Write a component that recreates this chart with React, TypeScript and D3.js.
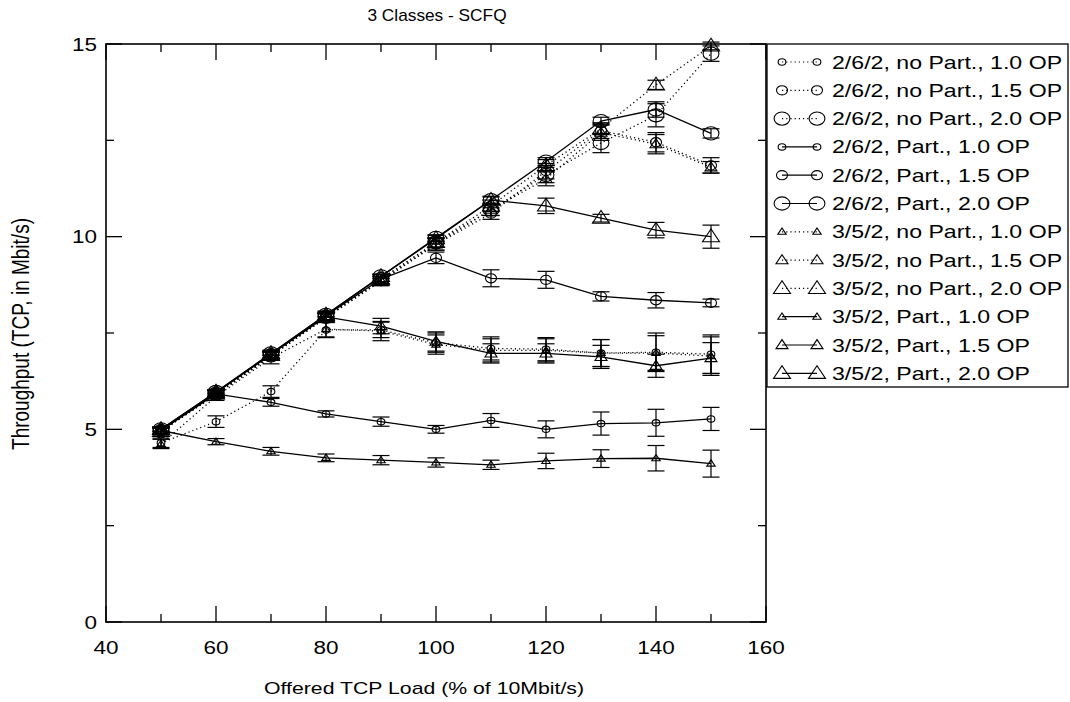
import React from "react";
import * as d3 from "d3";

const TITLE = "3 Classes - SCFQ";
const X_LABEL = "Offered TCP Load (% of 10Mbit/s)";
const Y_LABEL = "Throughput (TCP, in Mbit/s)";

const LOAD = [50, 60, 70, 80, 90, 100, 110, 120, 130, 140, 150];
const X_TICKS = [40, 60, 80, 100, 120, 140, 160];
const X_MINOR = [50, 70, 90, 110, 130, 150];
const Y_TICKS = [0, 5, 10, 15];
const Y_MINOR = [2.5, 7.5, 12.5];

const LEGEND_LABELS = [
  "2/6/2, no Part., 1.0 OP",
  "2/6/2, no Part., 1.5 OP",
  "2/6/2, no Part., 2.0 OP",
  "2/6/2, Part., 1.0 OP",
  "2/6/2, Part., 1.5 OP",
  "2/6/2, Part., 2.0 OP",
  "3/5/2, no Part., 1.0 OP",
  "3/5/2, no Part., 1.5 OP",
  "3/5/2, no Part., 2.0 OP",
  "3/5/2, Part., 1.0 OP",
  "3/5/2, Part., 1.5 OP",
  "3/5/2, Part., 2.0 OP",
];

// values
const c10NoPart = [4.65, 5.2, 5.98, 7.58, 7.58, 7.25, 7.1, 7.08, 6.98, 7.0, 6.95];
const c15NoPart = [4.95, 5.9, 6.9, 7.9, 8.85, 9.8, 10.6, 11.7, 12.75, 12.45, 11.85];
const c20NoPart = [4.95, 5.92, 6.92, 7.92, 8.9, 9.85, 10.7, 11.6, 12.43, 13.15, 14.75];
const c10Part = [4.97, 5.92, 5.7, 5.4, 5.2, 5.0, 5.23, 5.0, 5.15, 5.17, 5.27];
const c15Part = [4.98, 5.95, 6.95, 7.95, 8.9, 9.45, 8.92, 8.88, 8.45, 8.35, 8.28];
const c20Part = [5.0, 5.97, 6.97, 7.97, 8.97, 9.97, 10.95, 11.95, 13.0, 13.3, 12.68];
const t10NoPart = [4.62, 5.85, 6.85, 7.6, 7.55, 7.2, 7.05, 7.05, 6.98, 6.98, 6.9];
const t15NoPart = [4.95, 5.9, 6.9, 7.9, 8.85, 9.8, 10.7, 11.5, 12.7, 12.4, 11.8];
const t20NoPart = [4.95, 5.92, 6.92, 7.92, 8.9, 9.85, 10.8, 11.85, 12.8, 13.94, 14.95];
const t10Part = [4.97, 4.68, 4.43, 4.26, 4.2, 4.14, 4.08, 4.18, 4.24, 4.25, 4.11];
const t15Part = [4.98, 5.95, 6.95, 7.92, 7.68, 7.28, 6.97, 6.97, 6.88, 6.65, 6.85];
const t20Part = [5.0, 5.97, 6.97, 7.97, 8.97, 9.95, 10.95, 10.8, 10.48, 10.17, 10.0];

// error half-widths
const c10NoPartErr = [0.12, 0.15, 0.15, 0.2, 0.2, 0.25, 0.3, 0.3, 0.35, 0.5, 0.5];
const c15NoPartErr = [0.08, 0.1, 0.1, 0.1, 0.12, 0.15, 0.15, 0.2, 0.2, 0.25, 0.2];
const c20NoPartErr = [0.08, 0.1, 0.1, 0.1, 0.12, 0.12, 0.15, 0.2, 0.25, 0.3, 0.2];
const c10PartErr = [0.08, 0.08, 0.1, 0.08, 0.12, 0.1, 0.18, 0.22, 0.3, 0.35, 0.3];
const c15PartErr = [0.08, 0.08, 0.1, 0.1, 0.12, 0.15, 0.22, 0.22, 0.12, 0.2, 0.1];
const c20PartErr = [0.05, 0.05, 0.05, 0.05, 0.05, 0.08, 0.08, 0.1, 0.1, 0.2, 0.12];
const t10NoPartErr = [0.12, 0.1, 0.15, 0.2, 0.25, 0.25, 0.3, 0.3, 0.35, 0.45, 0.5];
const t15NoPartErr = [0.08, 0.1, 0.1, 0.1, 0.12, 0.15, 0.15, 0.18, 0.2, 0.25, 0.15];
const t20NoPartErr = [0.08, 0.1, 0.1, 0.1, 0.12, 0.12, 0.15, 0.15, 0.15, 0.12, 0.1];
const t10PartErr = [0.1, 0.08, 0.1, 0.1, 0.12, 0.12, 0.12, 0.2, 0.23, 0.33, 0.35];
const t15PartErr = [0.08, 0.08, 0.1, 0.15, 0.2, 0.25, 0.25, 0.25, 0.3, 0.3, 0.4];
const t20PartErr = [0.05, 0.05, 0.05, 0.05, 0.05, 0.08, 0.1, 0.2, 0.1, 0.2, 0.3];

type Series = { label: string; values: number[]; err: number[]; shape: "circle" | "triangle"; size: number; dotted: boolean };

const SERIES: Series[] = [
  { label: LEGEND_LABELS[0], values: c10NoPart, err: c10NoPartErr, shape: "circle", size: 0, dotted: true },
  { label: LEGEND_LABELS[1], values: c15NoPart, err: c15NoPartErr, shape: "circle", size: 1, dotted: true },
  { label: LEGEND_LABELS[2], values: c20NoPart, err: c20NoPartErr, shape: "circle", size: 2, dotted: true },
  { label: LEGEND_LABELS[3], values: c10Part, err: c10PartErr, shape: "circle", size: 0, dotted: false },
  { label: LEGEND_LABELS[4], values: c15Part, err: c15PartErr, shape: "circle", size: 1, dotted: false },
  { label: LEGEND_LABELS[5], values: c20Part, err: c20PartErr, shape: "circle", size: 2, dotted: false },
  { label: LEGEND_LABELS[6], values: t10NoPart, err: t10NoPartErr, shape: "triangle", size: 0, dotted: true },
  { label: LEGEND_LABELS[7], values: t15NoPart, err: t15NoPartErr, shape: "triangle", size: 1, dotted: true },
  { label: LEGEND_LABELS[8], values: t20NoPart, err: t20NoPartErr, shape: "triangle", size: 2, dotted: true },
  { label: LEGEND_LABELS[9], values: t10Part, err: t10PartErr, shape: "triangle", size: 0, dotted: false },
  { label: LEGEND_LABELS[10], values: t15Part, err: t15PartErr, shape: "triangle", size: 1, dotted: false },
  { label: LEGEND_LABELS[11], values: t20Part, err: t20PartErr, shape: "triangle", size: 2, dotted: false },
];

const W = 1070;
const H = 702;
const L = 106, R = 766, T = 44, B = 622;
const SX = 1.25;
const FS = 18;
const FONT = "'Liberation Sans', Arial, Helvetica, sans-serif";

const CIRCLE_RY = [3.2, 4.6, 6.6];
const TRI_HW = [4.2, 6, 8.5];
const CAP = 8.5;

function Marker({ shape, size, x, y }: { shape: string; size: number; x: number; y: number }) {
  if (shape === "circle") {
    const ry = CIRCLE_RY[size];
    return <ellipse cx={x} cy={y} rx={ry * 1.2} ry={ry} fill="none" stroke="#000" strokeWidth={1.1} />;
  }
  const hw = TRI_HW[size];
  const h = hw * 1.5;
  const p = `M${x - hw},${y + h * 0.4}L${x + hw},${y + h * 0.4}L${x},${y - h * 0.6}Z`;
  return <path d={p} fill="none" stroke="#000" strokeWidth={1.1} />;
}

function Txt({ x, y, anchor = "start", size = FS, rotate = 0, sx = SX, children }: any) {
  return (
    <text
      transform={`translate(${x},${y}) scale(${sx},1)${rotate ? ` rotate(${rotate})` : ""}`}
      textAnchor={anchor}
      fontSize={size}
      fontFamily={FONT}
      fill="#000"
    >
      {children}
    </text>
  );
}

export default function App() {
  const x = d3.scaleLinear().domain([40, 160]).range([L, R]);
  const y = d3.scaleLinear().domain([0, 15]).range([B, T]);
  const line = d3
    .line<number>()
    .x((_, i) => x(LOAD[i]))
    .y((d) => y(d));

  const legendTop = 62;
  const legendStep = 28.3;

  return (
    <svg width={W} height={H} style={{ position: "absolute", left: 0, top: 0, background: "#fff" }}>
      <rect x={0} y={0} width={W} height={H} fill="#fff" />
      {/* title */}
      <Txt x={437} y={21} anchor="middle" size={16} sx={1.08}>{TITLE}</Txt>

      {/* series lines */}
      {SERIES.map((s, si) => (
        <path
          key={"l" + si}
          d={line(s.values) || ""}
          fill="none"
          stroke="#000"
          strokeWidth={1.3}
          strokeDasharray={s.dotted ? "1.2,3" : undefined}
        />
      ))}
      {/* error bars and markers */}
      {SERIES.map((s, si) => (
        <g key={"m" + si}>
          {s.values.map((v, i) => {
            const cx = x(LOAD[i]);
            const y1 = y(v + s.err[i]);
            const y0 = y(v - s.err[i]);
            return (
              <g key={i}>
                <line x1={cx} x2={cx} y1={y1} y2={y0} stroke="#000" strokeWidth={1.2} />
                <line x1={cx - CAP} x2={cx + CAP} y1={y1} y2={y1} stroke="#000" strokeWidth={1.2} />
                <line x1={cx - CAP} x2={cx + CAP} y1={y0} y2={y0} stroke="#000" strokeWidth={1.2} />
                <Marker shape={s.shape} size={s.size} x={cx} y={y(v)} />
              </g>
            );
          })}
        </g>
      ))}

      {/* frame */}
      <rect x={L} y={T} width={R - L} height={B - T} fill="none" stroke="#000" strokeWidth={1.6} />
      {/* x ticks */}
      {X_TICKS.map((t) => (
        <g key={"xt" + t}>
          <line x1={x(t)} x2={x(t)} y1={B} y2={B - 16} stroke="#000" strokeWidth={1.3} />
          <line x1={x(t)} x2={x(t)} y1={T} y2={T + 16} stroke="#000" strokeWidth={1.3} />
          <Txt x={x(t)} y={654} anchor="middle">{String(t)}</Txt>
        </g>
      ))}
      {X_MINOR.map((t) => (
        <g key={"xm" + t}>
          <line x1={x(t)} x2={x(t)} y1={B} y2={B - 8} stroke="#000" strokeWidth={1.3} />
          <line x1={x(t)} x2={x(t)} y1={T} y2={T + 8} stroke="#000" strokeWidth={1.3} />
        </g>
      ))}
      {/* y ticks */}
      {Y_TICKS.map((t) => (
        <g key={"yt" + t}>
          <line x1={L} x2={L + 16} y1={y(t)} y2={y(t)} stroke="#000" strokeWidth={1.3} />
          <line x1={R} x2={R - 16} y1={y(t)} y2={y(t)} stroke="#000" strokeWidth={1.3} />
          <Txt x={97} y={y(t) + 6.5} anchor="end">{String(t)}</Txt>
        </g>
      ))}
      {Y_MINOR.map((t) => (
        <g key={"ym" + t}>
          <line x1={L} x2={L + 8} y1={y(t)} y2={y(t)} stroke="#000" strokeWidth={1.3} />
          <line x1={R} x2={R - 8} y1={y(t)} y2={y(t)} stroke="#000" strokeWidth={1.3} />
        </g>
      ))}

      {/* axis labels */}
      <Txt x={424} y={694} anchor="middle" size={17}>{X_LABEL}</Txt>
      <Txt x={29} y={334} anchor="middle" size={19} rotate={-90}>{Y_LABEL}</Txt>

      {/* legend */}
      <rect x={767} y={T} width={1068 - 767} height={387 - T} fill="#fff" stroke="#000" strokeWidth={1.3} />
      {SERIES.map((s, i) => {
        const ly = legendTop + i * legendStep;
        return (
          <g key={"lg" + i}>
            <line x1={782} x2={817} y1={ly} y2={ly} stroke="#000" strokeWidth={1.2} strokeDasharray={s.dotted ? "1.2,3" : undefined} />
            <Marker shape={s.shape} size={s.size} x={782} y={ly} />
            <Marker shape={s.shape} size={s.size} x={817} y={ly} />
            <Txt x={832} y={ly + 6.5} anchor="start" size={18.5}>{s.label}</Txt>
          </g>
        );
      })}
    </svg>
  );
}
